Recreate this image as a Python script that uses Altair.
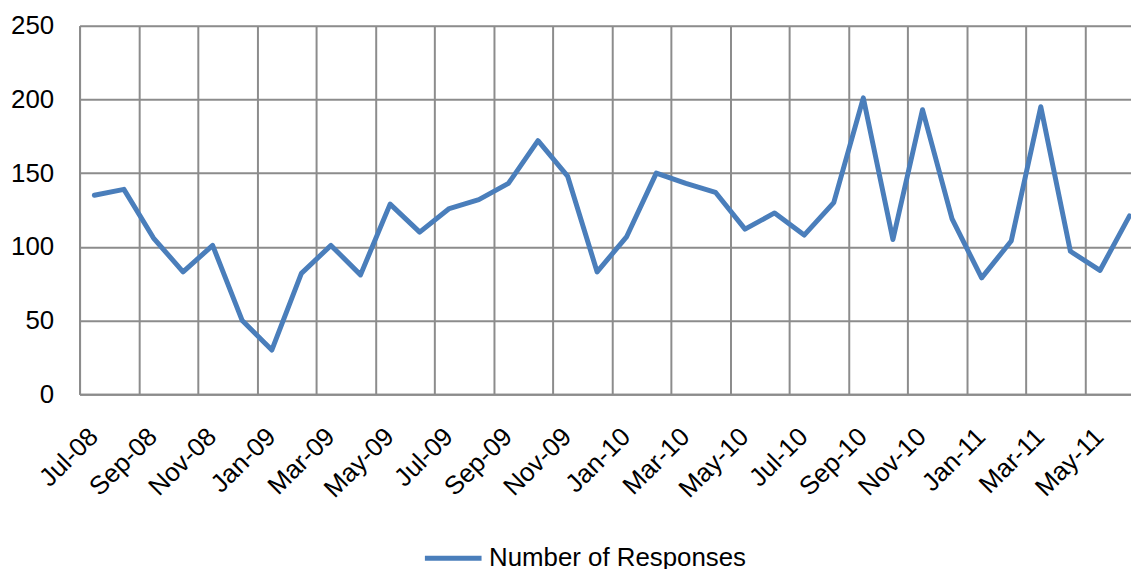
import altair as alt
import pandas as pd

months = ["Jul-08", "Aug-08", "Sep-08", "Oct-08", "Nov-08", "Dec-08",
          "Jan-09", "Feb-09", "Mar-09", "Apr-09", "May-09", "Jun-09",
          "Jul-09", "Aug-09", "Sep-09", "Oct-09", "Nov-09", "Dec-09",
          "Jan-10", "Feb-10", "Mar-10", "Apr-10", "May-10", "Jun-10",
          "Jul-10", "Aug-10", "Sep-10", "Oct-10", "Nov-10", "Dec-10",
          "Jan-11", "Feb-11", "Mar-11", "Apr-11", "May-11", "Jun-11"]
responses = [135, 139, 106, 83, 101, 50, 30, 82, 101, 81, 129, 110,
             126, 132, 143, 172, 148, 83, 107, 150, 143, 137, 112, 123,
             108, 130, 201, 105, 193, 119, 79, 104, 195, 97, 84, 121]
series_name = "Number of Responses"
y_ticks = [0, 50, 100, 150, 200, 250]
tick_labels = months[::2]

df = pd.DataFrame({
    "month": months,
    "idx": [i + 0.5 for i in range(len(months))],
    "value": responses,
    "series": [series_name] * len(months),
})

label_arr = "[" + ",".join("'%s'" % m for m in tick_labels) + "]"

FONT = "Liberation Sans"
GRID = "#8c8c8c"
LINE = "#4A7EBB"

chart = alt.Chart(df).mark_line(
    strokeWidth=5, strokeCap="round", strokeJoin="round", clip=True
).encode(
    x=alt.X("idx:Q",
            scale=alt.Scale(domain=[0, 35.55], nice=False, zero=False),
            axis=alt.Axis(values=[2 * i for i in range(len(tick_labels))],
                          labelExpr=label_arr + "[round(datum.value/2)]",
                          title=None, grid=True, gridColor=GRID, gridWidth=2,
                          domainColor=GRID, domainWidth=2, ticks=False, tickSize=0,
                          labelAngle=315, labelAlign="right", labelBaseline="middle",
                          labelPadding=38, labelOffset=14, labelOverlap=False,
                          labelFlush=False, labelBound=False,
                          labelFont=FONT, labelFontSize=26, labelColor="#000000")),
    y=alt.Y("value:Q",
            scale=alt.Scale(domain=[0, 250], nice=False),
            axis=alt.Axis(values=y_ticks, title=None, grid=True, gridColor=GRID,
                          gridWidth=2, domainColor=GRID, domainWidth=2, ticks=False,
                          tickSize=0, labelPadding=26, labelFont=FONT, labelFontSize=26,
                          labelColor="#000000", labelBaseline="middle")),
    color=alt.Color("series:N",
                    scale=alt.Scale(domain=[series_name], range=[LINE]),
                    legend=alt.Legend(title=None, orient="none", legendX=345, legendY=505,
                                      symbolType="stroke", symbolSize=3249,
                                      symbolStrokeWidth=5, symbolStrokeColor=LINE,
                                      labelFont=FONT,
                                      labelFontSize=26, labelColor="#000000",
                                      labelOffset=5, padding=0, labelLimit=600)),
    strokeWidth=alt.value(5),
).properties(
    width=1058, height=371,
    autosize=alt.AutoSizeParams(type="none"),
    padding={"left": 72, "top": 16, "right": 0, "bottom": 174},
).configure_view(stroke=None).configure(background="white").configure_legend(
    symbolStrokeWidth=5
)

chart.save("out.html", embed_options={"renderer": "svg", "actions": False})
